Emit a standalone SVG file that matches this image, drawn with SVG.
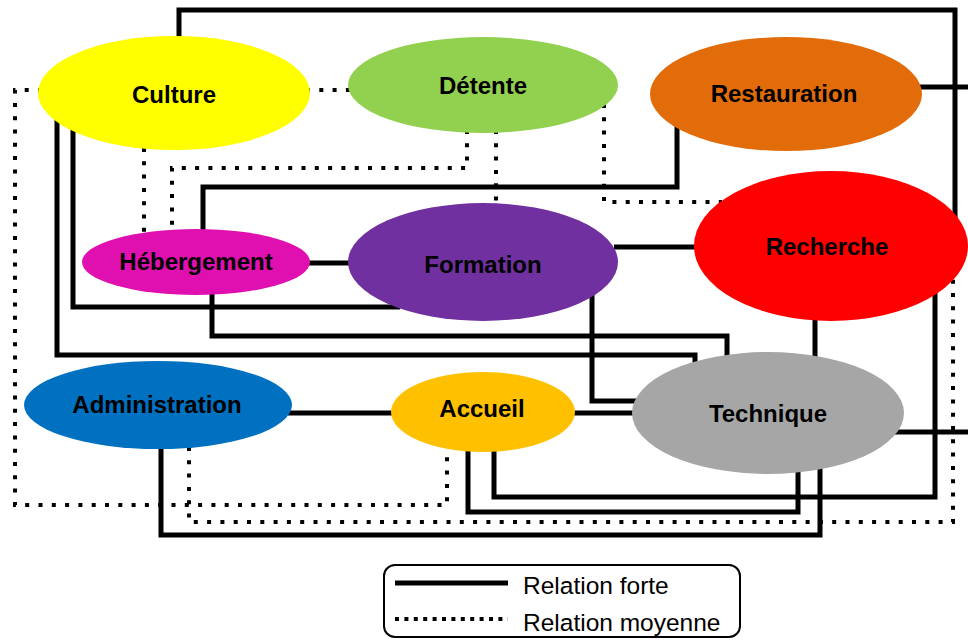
<svg xmlns="http://www.w3.org/2000/svg" width="968" height="641" viewBox="0 0 968 641">
<style>
.s{fill:none;stroke:#000;stroke-width:5;stroke-linejoin:miter}
.d{fill:none;stroke:#000;stroke-width:4;stroke-dasharray:4 9.3}
.lbl{font-family:"Liberation Sans",Arial,sans-serif;font-weight:bold;font-size:24px;fill:#000;text-anchor:middle}
.leg{font-family:"Liberation Sans",Arial,sans-serif;font-size:24.5px;fill:#000}
</style>
<rect width="968" height="641" fill="#fff"/>
<g id="connectors">
<path class="s" d="M179,40 V10 H955 V218"/>
<path class="s" d="M918,87 H968"/>
<path class="s" d="M677,126 V187 H203 V232"/>
<path class="s" d="M73,125 V307 H400"/>
<path class="s" d="M57,118 V355 H695 V366"/>
<path class="s" d="M212,292 V336 H727 V362"/>
<path class="s" d="M306,263 H352"/>
<path class="s" d="M614,247 H698"/>
<path class="s" d="M592,294 V401 H638"/>
<path class="s" d="M815,318 V358"/>
<path class="s" d="M288,413 H395"/>
<path class="s" d="M571,413 H636"/>
<path class="s" d="M893,432 H968"/>
<path class="s" d="M494,448 V497 H935 V292"/>
<path class="s" d="M468,448 V512 H798 V468"/>
<path class="s" d="M161,445 V535 H820 V468"/>
<path class="d" d="M306,90 H352"/>
<path class="d" d="M42,90 H15 V505 H447 V448"/>
<path class="d" d="M189,447 V522 H953 V276"/>
<path class="d" d="M144,148 V234"/>
<path class="d" d="M467,130 V168 H172 V234"/>
<path class="d" d="M496,130 V206"/>
<path class="d" d="M604,104 V202 H722"/>
</g>
<g id="culture"><ellipse cx="174" cy="93" rx="136" ry="57" fill="#FFFF00"/><text class="lbl" x="174" y="103">Culture</text></g>
<g id="detente"><ellipse cx="483" cy="85" rx="135" ry="48" fill="#92D050"/><text class="lbl" x="483" y="94">Détente</text></g>
<g id="restauration"><ellipse cx="786" cy="94" rx="136" ry="57" fill="#E36C0A"/><text class="lbl" x="784" y="102">Restauration</text></g>
<g id="recherche"><ellipse cx="831" cy="246" rx="137" ry="75" fill="#FF0000"/><text class="lbl" x="827" y="255">Recherche</text></g>
<g id="hebergement"><ellipse cx="196" cy="262" rx="114" ry="33" fill="#E010B0"/><text class="lbl" x="196" y="270">Hébergement</text></g>
<g id="formation"><ellipse cx="483" cy="262" rx="135" ry="59" fill="#7030A0"/><text class="lbl" x="483" y="273">Formation</text></g>
<g id="administration"><ellipse cx="158" cy="405" rx="134" ry="44" fill="#0070C0"/><text class="lbl" x="157" y="413">Administration</text></g>
<g id="accueil"><ellipse cx="483" cy="412" rx="92" ry="40" fill="#FFC000"/><text class="lbl" x="482" y="417">Accueil</text></g>
<g id="technique"><ellipse cx="768" cy="413" rx="136" ry="61" fill="#A6A6A6"/><text class="lbl" x="768" y="422">Technique</text></g>
<g id="legend">
<rect x="384" y="565" width="356" height="72" rx="11" fill="#fff" stroke="#000" stroke-width="2"/>
<path d="M395,583 H508" stroke="#000" stroke-width="5"/>
<path d="M395,619 H508" stroke="#000" stroke-width="4" stroke-dasharray="4 5.4"/>
<text class="leg" x="523" y="594">Relation forte</text>
<text class="leg" x="523" y="631">Relation moyenne</text>
</g>
</svg>
